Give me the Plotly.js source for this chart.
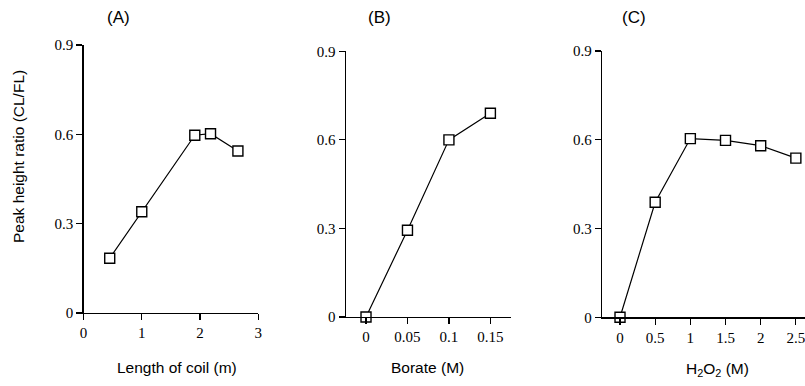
<!DOCTYPE html>
<html><head><meta charset="utf-8">
<script src="https://cdn.plot.ly/plotly-3.0.1.min.js"></script>
<style>body{margin:0;background:#fff}#c{width:805px;height:386px}</style>
</head><body><div id="c"></div>
<script>
// Panel A: length of coil
const coilLength = [0.45, 1.0, 1.91, 2.18, 2.65];
const ratioA = [0.184, 0.34, 0.597, 0.602, 0.544];
// Panel B: borate
const borate = [0, 0.05, 0.1, 0.15];
const ratioB = [0, 0.294, 0.6, 0.69];
// Panel C: H2O2
const h2o2 = [0, 0.5, 1, 1.5, 2, 2.5];
const ratioC = [0, 0.389, 0.604, 0.598, 0.58, 0.538];

const yTicks = [0, 0.3, 0.6, 0.9];
const yTickText = ['0', '0.3', '0.6', '0.9'];
const xTicksA = [0, 1, 2, 3];
const xTicksB = [0, 0.05, 0.1, 0.15];
const xTicksC = [0, 0.5, 1, 1.5, 2, 2.5];
const panelLabels = ['(A)', '(B)', '(C)'];
const xTitles = ['Length of coil (m)', 'Borate (M)', 'H<sub>2</sub>O<sub>2</sub> (M)'];
const yTitle = 'Peak height ratio (CL/FL)';

const W = 805, H = 386;
const px = v => v / W, py = v => 1 - v / H;

const markerFill = {symbol: 'square', size: 10, color: '#fff', line: {width: 1.4, color: '#000'}};
function tr(x, y, xa, ya) {
  return {x: x, y: y, xaxis: xa, yaxis: ya, mode: 'lines+markers', line: {color: '#000', width: 1.2},
    marker: markerFill, showlegend: false, cliponaxis: false, hoverinfo: 'skip'};
}
const data = [
  tr(coilLength, ratioA, 'x', 'y'),
  tr(borate, ratioB, 'x2', 'y2'),
  tr(h2o2, ratioC, 'x3', 'y3')
];

const tickFont = {family: 'Liberation Serif, Times New Roman, serif', size: 15, color: '#000'};
function xax(domain, range, ticks, anchor) {
  return {domain: domain, range: range, tickvals: ticks, ticktext: ticks.map(String), anchor: anchor,
    showline: true, linecolor: '#000', linewidth: 1.2, ticks: 'outside', ticklen: 6, tickcolor: '#000', tickwidth: 1.2,
    showgrid: false, zeroline: false, tickfont: tickFont, fixedrange: true, ticklabeloverflow: 'allow'};
}
function yax(domain, anchor) {
  return {domain: domain, range: [0, 0.9], tickvals: yTicks, ticktext: yTickText, anchor: anchor,
    showline: true, linecolor: '#000', linewidth: 1.2, ticks: 'outside', ticklen: 6, tickcolor: '#000', tickwidth: 1.2,
    showgrid: false, zeroline: false, tickfont: tickFont, fixedrange: true, ticklabeloverflow: 'allow'};
}

const titleFont = {family: 'Liberation Sans, Arial, sans-serif', size: 15.5, color: '#000'};
const ann = [];
const panelPos = [[118, 18], [379, 18], [634, 18]];
panelLabels.forEach((t, i) => ann.push({text: t, x: px(panelPos[i][0]), y: py(panelPos[i][1]), xref: 'paper', yref: 'paper',
  showarrow: false, xanchor: 'center', yanchor: 'middle', font: {family: titleFont.family, size: 17, color: '#000'}}));
const xtPos = [[177, 367], [427, 367], [717, 369]];
xTitles.forEach((t, i) => ann.push({text: t, x: px(xtPos[i][0]), y: py(xtPos[i][1]), xref: 'paper', yref: 'paper',
  showarrow: false, xanchor: 'center', yanchor: 'middle', font: titleFont}));
ann.push({text: yTitle, x: px(18), y: py(157), xref: 'paper', yref: 'paper', showarrow: false, textangle: -90,
  xanchor: 'center', yanchor: 'middle', font: titleFont});

const layout = {
  width: W, height: H, margin: {l: 0, r: 0, t: 0, b: 0}, paper_bgcolor: '#fff', plot_bgcolor: 'rgba(0,0,0,0)',
  xaxis: xax([px(83.5), px(258.3)], [0, 3], xTicksA, 'y'),
  yaxis: yax([py(313), py(45)], 'x'),
  xaxis2: xax([px(345.7), px(510.7)], [-0.0245, 0.1745], xTicksB, 'y2'),
  yaxis2: yax([py(317), py(51.3)], 'x2'),
  xaxis3: xax([px(602), 1], [-0.256, 2.63], xTicksC, 'y3'),
  yaxis3: yax([py(317.3), py(51)], 'x3'),
  annotations: ann
};
Plotly.newPlot('c', data, layout, {staticPlot: true, displayModeBar: false});
</script></body></html>
